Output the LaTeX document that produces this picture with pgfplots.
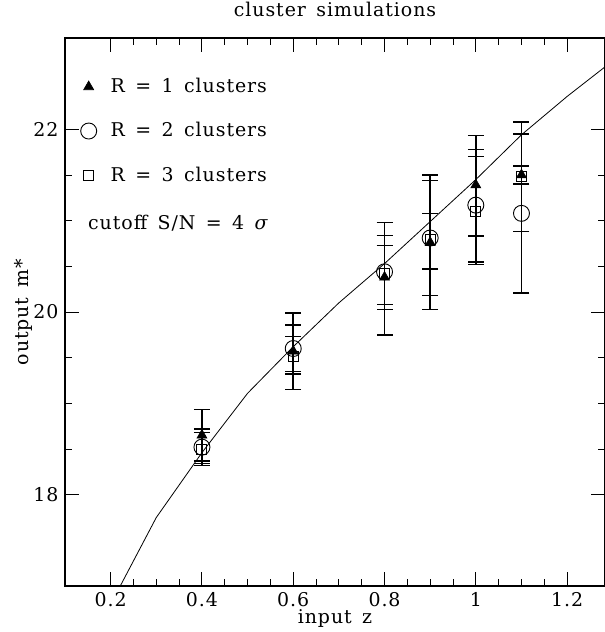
\documentclass[border=0pt]{standalone}
\usepackage{fontspec}
\setmainfont{DejaVu Serif}[LetterSpace=5, WordSpace=1.5]
\usepackage{pgfplots}
\pgfplotsset{compat=1.18}
\begin{document}
\fontsize{19}{22}\selectfont
\begin{tikzpicture}
\begin{axis}[
  scale only axis, width=540bp, height=548bp,
  xmin=0.1, xmax=1.283, ymin=17, ymax=23,
  xtick={0.2,0.4,0.6,0.8,1.0,1.2}, minor x tick num=3,
  ytick={18,20,22}, minor y tick num=3,
  tick align=inside, major tick length=14bp, minor tick length=7bp,
  tick style={line width=0.9bp, black},
  axis line style={line width=1.1bp},
  /pgf/number format/assume math mode=true,
  title={cluster simulations},
  title style={at={(axis description cs:0.5,1)}, anchor=base, yshift=16bp, inner sep=0pt},
  xlabel={input z},
  xlabel style={at={(axis description cs:0.5,0)}, anchor=base, yshift=-37bp, inner sep=0pt},
  ylabel={output m*},
  ylabel style={at={([xshift=-36bp]axis description cs:0,0.5)}, anchor=base, inner sep=0pt},
  legend style={draw=none, fill=none, at={(axis description cs:0,1)}, anchor=north west,
    xshift=15.5bp, yshift=-38bp, row sep=23bp, inner sep=0pt, column sep=12bp,
    nodes={inner sep=2bp}},
  legend cell align=left,
  error bars/y dir=both, error bars/y explicit,
  error bars/error bar style={line width=1.5bp, black},
  error bars/error mark options={rotate=90, mark size=8bp, line width=1.5bp, black},
]
\addplot[black, line width=0.8bp, no marks, forget plot] coordinates {
(0.2,16.8) (0.3,17.75) (0.4,18.46) (0.5,19.11) (0.6,19.62) (0.7,20.1)
(0.8,20.53) (0.9,20.99) (1.0,21.45) (1.1,21.94) (1.2,22.36) (1.3,22.75)};

\addplot[only marks, mark=triangle*, mark size=5.8bp, mark options={fill=black, draw=black, line width=0.6bp}] coordinates {
(0.4,18.65) += (0,0.28) -= (0,0.28)
(0.6,19.57) += (0,0.29) -= (0,0.25)
(0.8,20.38) += (0,0.60) -= (0,0.63)
(0.9,20.76) += (0,0.74) -= (0,0.73)
(1.0,21.39) += (0,0.54) -= (0,0.56)
(1.1,21.50) += (0,0.58) -= (0,0.62)};
\addlegendentry{R = 1 clusters}

\addplot[only marks, mark=o, mark size=8bp, mark options={draw=black, line width=0.9bp}] coordinates {
(0.4,18.52) += (0,0.20) -= (0,0.20)
(0.6,19.60) += (0,0.39) -= (0,0.45)
(0.8,20.44) += (0,0.40) -= (0,0.41)
(0.9,20.81) += (0,0.63) -= (0,0.63)
(1.0,21.17) += (0,0.61) -= (0,0.62)
(1.1,21.08) += (0,0.87) -= (0,0.87)};
\addlegendentry{R = 2 clusters}

\addplot[only marks, mark=square, mark size=5bp, mark options={draw=black, line width=0.9bp}] coordinates {
(0.4,18.49) += (0,0.19) -= (0,0.15)
(0.6,19.51) += (0,0.22) -= (0,0.16)
(0.8,20.42) += (0,0.31) -= (0,0.34)
(0.9,20.79) += (0,0.29) -= (0,0.32)
(1.0,21.10) += (0,0.60) -= (0,0.58)
(1.1,21.48) += (0,0.12) -= (0,0.08)};
\addlegendentry{R = 3 clusters}

\node[anchor=base west, inner sep=0pt] at ([xshift=23bp,yshift=-192bp]rel axis cs:0,1) {cutoff S/N = 4 \textit{σ}};
\end{axis}
\pgfresetboundingbox
\path[use as bounding box] ([xshift=-65bp,yshift=-46bp]current axis.south west) rectangle ([xshift=-0.6bp,yshift=38bp]current axis.north east);
\end{tikzpicture}
\end{document}
